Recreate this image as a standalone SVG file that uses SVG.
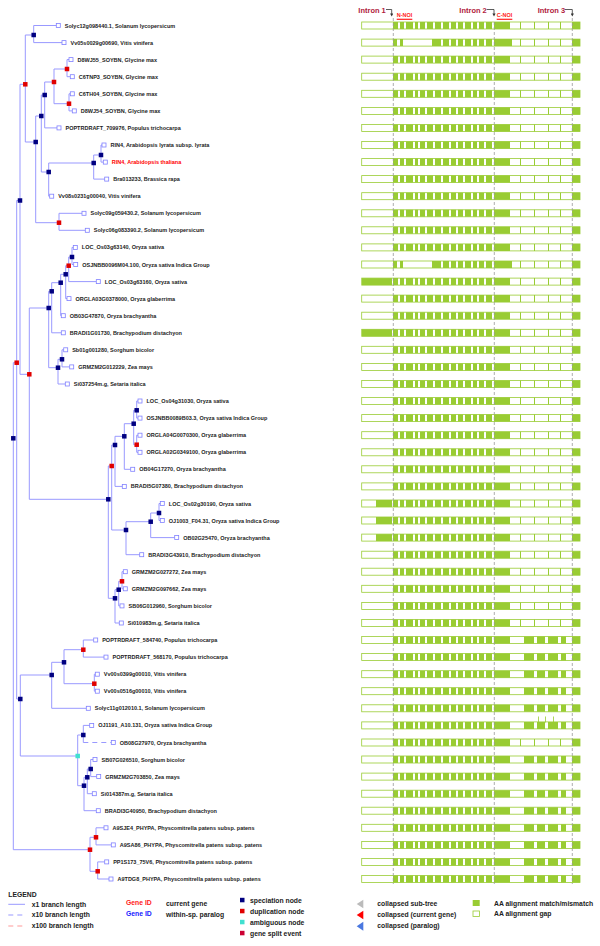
<svg xmlns="http://www.w3.org/2000/svg" width="600" height="946" viewBox="0 0 600 946">
<style>
.br{stroke:#9999ff;stroke-width:1;fill:none}
.dash{stroke-dasharray:5,4}
.sp{fill:#000080}
.du{fill:#e00000}
.am{fill:#40e0d0}
.lf{fill:#fff;stroke:#8080ff;stroke-width:0.8}
.lb{font-family:"Liberation Sans",Arial,sans-serif;font-weight:bold;font-size:5.5px;fill:#222}
.cur{fill:#ff0000}
.bg{fill:#fff;stroke:#99cc33;stroke-width:0.8}
.m{fill:#99cc33}
.lg{font-family:"Liberation Sans",Arial,sans-serif;font-weight:bold;font-size:6.8px;fill:#222}
.it{font-family:"Liberation Sans",Arial,sans-serif;font-weight:bold;font-size:7.5px;fill:#b0203c}
.noi{font-family:"Liberation Sans",Arial,sans-serif;font-weight:bold;font-size:5.5px;fill:#ff2020}
.intr{stroke:#999;stroke-width:0.8;stroke-dasharray:3,2}
</style>
<defs>
<rect id="nd" x="-2.25" y="-2.25" width="4.5" height="4.5"/>
<rect id="lfb" class="lf" x="-2" y="-2" width="4" height="4"/>
<marker id="ah" markerWidth="4" markerHeight="4" refX="2" refY="2" orient="auto"><path d="M0,0L4,2L0,4Z" fill="#333"/></marker>
<rect id="bgr" class="bg" x="361.7" y="-3.5" width="218.3" height="7"/>
<path id="core" class="m" d="M393,-3.5h5v7h-5zM400,-3.5h4v7h-4zM406,-3.5h7v7h-7zM415,-3.5h3v7h-3zM420,-3.5h5v7h-5zM427,-3.5h6v7h-6zM435,-3.5h6v7h-6zM443,-3.5h6v7h-6zM451,-3.5h5v7h-5zM458,-3.5h5v7h-5zM465,-3.5h6v7h-6zM473,-3.5h4v7h-4zM479,-3.5h5v7h-5zM486,-3.5h6v7h-6zM494,-3.5h16v7h-16z"/>
<path id="core2" class="m" d="M393,-3.5h4v7h-4zM400,-3.5h3v7h-3zM432,-3.5h9v7h-9zM443,-3.5h6v7h-6zM451,-3.5h5v7h-5zM458,-3.5h5v7h-5zM465,-3.5h6v7h-6zM473,-3.5h4v7h-4zM479,-3.5h5v7h-5zM486,-3.5h6v7h-6zM494,-3.5h18v7h-18z"/>
<path id="tail" class="m" d="M520,-3.5h1v7h-1zM534,-3.5h1v7h-1zM548,-3.5h1v7h-1zM560,-3.5h1v7h-1zM572,-3.5h8v7h-8z"/>
<path id="tail2" class="m" d="M524,-3.5h10v7h-10zM537,-3.5h8v7h-8zM548,-3.5h10v7h-10zM561,-3.5h5v7h-5zM572,-3.5h8v7h-8z"/>
<path id="head" class="m" d="M362,-3.5h30v7h-30z"/>
<path id="head2" class="m" d="M376,-3.5h16v7h-16z"/>
</defs>
<g id="connectors">
<path class="br" d="M33.7,25.5V42.6M33.7,25.5H56.3M33.7,42.6H62"/>
<path class="br" d="M67,59.6V76.7M67,59.6H69M67,76.7H70.3"/>
<path class="br" d="M69,93.8V110.9M69,93.8H70.3M69,110.9H72.3"/>
<path class="br" d="M54,69V103.7M54,69H67M54,103.7H69"/>
<path class="br" d="M44.7,82V127.9M44.7,82H54M44.7,127.9H57"/>
<path class="br" d="M101,145V162.1M101,145H102M101,162.1H103.3"/>
<path class="br" d="M93.7,155V179.1M93.7,155H101M93.7,179.1H104.7"/>
<path class="br" d="M48.7,163V196.2M48.7,163H93.7M48.7,196.2H49.7"/>
<path class="br" d="M41.3,95V172M41.3,95H44.7M41.3,172H48.7"/>
<path class="br" d="M59,213.3V230.3M59,213.3H82M59,230.3H85.3"/>
<path class="br" d="M35.7,116V222.7M35.7,116H41.3M35.7,222.7H59"/>
<path class="br" d="M25.3,35V142M25.3,35H33.7M25.3,142H35.7"/>
<path class="br" d="M72,247.4V264.5M72,247.4H73.3M72,264.5H73.7"/>
<path class="br" d="M68.7,257V281.6M68.7,257H72M68.7,281.6H96.3"/>
<path class="br" d="M65.7,265.7V298.6M65.7,265.7H68.7M65.7,298.6H67"/>
<path class="br" d="M60.7,274.3V315.7M60.7,274.3H65.7M60.7,315.7H61.3"/>
<path class="br" d="M51.7,282.7V332.8M51.7,282.7H60.7M51.7,332.8H61.3"/>
<path class="br" d="M62,349.8V366.9M62,349.8H63.7M62,366.9H69.7"/>
<path class="br" d="M58,359.3V384M58,359.3H62M58,384H65.3"/>
<path class="br" d="M48.7,291.3V367.7M48.7,291.3H51.7M48.7,367.7H58"/>
<path class="br" d="M136.7,401V418.1M136.7,401H138M136.7,418.1H138"/>
<path class="br" d="M136.7,435.2V452.3M136.7,435.2H138M136.7,452.3H138"/>
<path class="br" d="M133.7,410.3V444.7M133.7,410.3H136.7M133.7,444.7H136.7"/>
<path class="br" d="M124.3,423.7V469.3M124.3,423.7H133.7M124.3,469.3H130.7"/>
<path class="br" d="M115,436.3V486.4M115,436.3H124.3M115,486.4H122.3"/>
<path class="br" d="M159,503.5V520.5M159,503.5H160.3M159,520.5H160.3"/>
<path class="br" d="M150.7,513V537.6M150.7,513H159M150.7,537.6H174.7"/>
<path class="br" d="M126,521.7V554.7M126,521.7H150.7M126,554.7H139.7"/>
<path class="br" d="M111.7,445V530M111.7,445H115M111.7,530H126"/>
<path class="br" d="M122,571.7V588.8M122,571.7H123.3M122,588.8H123.3"/>
<path class="br" d="M118.7,581.3V605.9M118.7,581.3H122M118.7,605.9H120"/>
<path class="br" d="M115,589.7V623M115,589.7H118.7M115,623H119.3"/>
<path class="br" d="M108.3,466V598.3M108.3,466H111.7M108.3,598.3H115"/>
<path class="br" d="M29.3,308V499.3M29.3,308H48.7M29.3,499.3H108.3"/>
<path class="br" d="M20,84.3V374.3M20,84.3H25.3M20,374.3H29.3"/>
<path class="br" d="M83.3,640V657.1M83.3,640H93.7M83.3,657.1H104"/>
<path class="br" d="M94.3,674.2V691.2M94.3,674.2H95.3M94.3,691.2H95.3"/>
<path class="br" d="M64,649.7V683.7M64,649.7H83.3M64,683.7H94.3"/>
<path class="br" d="M51.7,662.3V708.3M51.7,662.3H64M51.7,708.3H86.3"/>
<path class="br" d="M83.3,725.4V742.5M83.3,725.4H89.7"/>
<path class="br dash" d="M83.3,742.5H111.3"/>
<path class="br" d="M90.7,759.5V776.6M90.7,759.5H93M90.7,776.6H96.7"/>
<path class="br" d="M87.3,769V793.7M87.3,769H90.7M87.3,793.7H92.3"/>
<path class="br" d="M84,777.3V810.7M84,777.3H87.3M84,810.7H96.3"/>
<path class="br" d="M77.7,735V785.7M77.7,735H83.3M77.7,785.7H84"/>
<path class="br" d="M20.3,675V756M20.3,675H51.7M20.3,756H77.7"/>
<path class="br" d="M16.7,200.5V699M16.7,200.5H20M16.7,699H20.3"/>
<path class="br" d="M96,827.8V844.9M96,827.8H104M96,844.9H111.3"/>
<path class="br" d="M97.7,861.9V879M97.7,861.9H104.7M97.7,879H109"/>
<path class="br" d="M90,837.3V871.3M90,837.3H96M90,871.3H97.7"/>
<path class="br" d="M13.3,362.7V849.7M13.3,362.7H16.7M13.3,849.7H90"/>
</g>
<g id="internal-nodes">
<g id="nA"><use href="#nd" class="sp" x="33.7" y="35"/></g>
<g id="nB"><use href="#nd" class="du" x="67" y="69"/></g>
<g id="nC"><use href="#nd" class="du" x="69" y="103.7"/></g>
<g id="nD"><use href="#nd" class="du" x="54" y="82"/></g>
<g id="nE"><use href="#nd" class="sp" x="44.7" y="95"/></g>
<g id="nH"><use href="#nd" class="sp" x="101" y="155"/></g>
<g id="nG2"><use href="#nd" class="sp" x="93.7" y="163"/></g>
<g id="nG"><use href="#nd" class="sp" x="48.7" y="172"/></g>
<g id="nF"><use href="#nd" class="sp" x="41.3" y="116"/></g>
<g id="nI"><use href="#nd" class="du" x="59" y="222.7"/></g>
<g id="nJ"><use href="#nd" class="sp" x="35.7" y="142"/></g>
<g id="nK"><use href="#nd" class="du" x="25.3" y="84.3"/></g>
<g id="nP5"><use href="#nd" class="sp" x="72" y="257"/></g>
<g id="nP4"><use href="#nd" class="du" x="68.7" y="265.7"/></g>
<g id="nP3"><use href="#nd" class="sp" x="65.7" y="274.3"/></g>
<g id="nP2"><use href="#nd" class="sp" x="60.7" y="282.7"/></g>
<g id="nP"><use href="#nd" class="sp" x="51.7" y="291.3"/></g>
<g id="nQ2"><use href="#nd" class="sp" x="62" y="359.3"/></g>
<g id="nQ"><use href="#nd" class="sp" x="58" y="367.7"/></g>
<g id="nN"><use href="#nd" class="sp" x="48.7" y="308"/></g>
<g id="nT4"><use href="#nd" class="sp" x="136.7" y="410.3"/></g>
<g id="nT5"><use href="#nd" class="du" x="136.7" y="444.7"/></g>
<g id="nT3"><use href="#nd" class="sp" x="133.7" y="423.7"/></g>
<g id="nT2"><use href="#nd" class="sp" x="124.3" y="436.3"/></g>
<g id="nT1"><use href="#nd" class="sp" x="115" y="445"/></g>
<g id="nS3"><use href="#nd" class="sp" x="159" y="513"/></g>
<g id="nS2"><use href="#nd" class="sp" x="150.7" y="521.7"/></g>
<g id="nS1"><use href="#nd" class="sp" x="126" y="530"/></g>
<g id="nR"><use href="#nd" class="du" x="111.7" y="466"/></g>
<g id="nW"><use href="#nd" class="du" x="122" y="581.3"/></g>
<g id="nV"><use href="#nd" class="sp" x="118.7" y="589.7"/></g>
<g id="nU"><use href="#nd" class="sp" x="115" y="598.3"/></g>
<g id="nO"><use href="#nd" class="sp" x="108.3" y="499.3"/></g>
<g id="nM"><use href="#nd" class="du" x="29.3" y="374.3"/></g>
<g id="nL"><use href="#nd" class="sp" x="20" y="200.5"/></g>
<g id="nD1"><use href="#nd" class="du" x="83.3" y="649.7"/></g>
<g id="nD2"><use href="#nd" class="du" x="94.3" y="683.7"/></g>
<g id="nD3"><use href="#nd" class="sp" x="64" y="662.3"/></g>
<g id="nD4"><use href="#nd" class="sp" x="51.7" y="675"/></g>
<g id="nE1"><use href="#nd" class="sp" x="83.3" y="735"/></g>
<g id="nE3"><use href="#nd" class="sp" x="90.7" y="769"/></g>
<g id="nE4"><use href="#nd" class="sp" x="87.3" y="777.3"/></g>
<g id="nE5"><use href="#nd" class="sp" x="84" y="785.7"/></g>
<g id="nAA"><use href="#nd" class="am" x="77.7" y="756"/></g>
<g id="nZ"><use href="#nd" class="sp" x="20.3" y="699"/></g>
<g id="nX"><use href="#nd" class="du" x="16.7" y="362.7"/></g>
<g id="nPh1"><use href="#nd" class="du" x="96" y="837.3"/></g>
<g id="nPh2"><use href="#nd" class="du" x="97.7" y="871.3"/></g>
<g id="nPhR"><use href="#nd" class="du" x="90" y="849.7"/></g>
<g id="nY"><use href="#nd" class="sp" x="13.3" y="438.3"/></g>
</g>
<g id="leaves">
<g id="l1"><use href="#lfb" x="58.3" y="25.5"/><text class="lb" x="64.8" y="27.5">Solyc12g098440.1, Solanum lycopersicum</text></g>
<g id="l2"><use href="#lfb" x="64" y="42.6"/><text class="lb" x="70.5" y="44.6">Vv05s0029g00690, Vitis vinifera</text></g>
<g id="l3"><use href="#lfb" x="71" y="59.6"/><text class="lb" x="77.5" y="61.6">D8WJ55_SOYBN, Glycine max</text></g>
<g id="l4"><use href="#lfb" x="72.3" y="76.7"/><text class="lb" x="78.8" y="78.7">C6TNP3_SOYBN, Glycine max</text></g>
<g id="l5"><use href="#lfb" x="72.3" y="93.8"/><text class="lb" x="78.8" y="95.8">C6TH04_SOYBN, Glycine max</text></g>
<g id="l6"><use href="#lfb" x="74.3" y="110.9"/><text class="lb" x="80.8" y="112.9">D8WJ54_SOYBN, Glycine max</text></g>
<g id="l7"><use href="#lfb" x="59" y="127.9"/><text class="lb" x="65.5" y="129.9">POPTRDRAFT_709976, Populus trichocarpa</text></g>
<g id="l8"><use href="#lfb" x="104" y="145"/><text class="lb" x="110.5" y="147">RIN4, Arabidopsis lyrata subsp. lyrata</text></g>
<g id="l9"><use href="#lfb" x="105.3" y="162.1"/><text class="lb cur" x="111.8" y="164.1">RIN4, Arabidopsis thaliana</text></g>
<g id="l10"><use href="#lfb" x="106.7" y="179.1"/><text class="lb" x="113.2" y="181.1">Bra013233, Brassica rapa</text></g>
<g id="l11"><use href="#lfb" x="51.7" y="196.2"/><text class="lb" x="58.2" y="198.2">Vv08s0231g00040, Vitis vinifera</text></g>
<g id="l12"><use href="#lfb" x="84" y="213.3"/><text class="lb" x="90.5" y="215.3">Solyc09g059430.2, Solanum lycopersicum</text></g>
<g id="l13"><use href="#lfb" x="87.3" y="230.3"/><text class="lb" x="93.8" y="232.3">Solyc06g083390.2, Solanum lycopersicum</text></g>
<g id="l14"><use href="#lfb" x="75.3" y="247.4"/><text class="lb" x="81.8" y="249.4">LOC_Os03g63140, Oryza sativa</text></g>
<g id="l15"><use href="#lfb" x="75.7" y="264.5"/><text class="lb" x="82.2" y="266.5">OSJNBB0096M04.100, Oryza sativa Indica Group</text></g>
<g id="l16"><use href="#lfb" x="98.3" y="281.6"/><text class="lb" x="104.8" y="283.6">LOC_Os03g63160, Oryza sativa</text></g>
<g id="l17"><use href="#lfb" x="69" y="298.6"/><text class="lb" x="75.5" y="300.6">ORGLA03G0378000, Oryza glaberrima</text></g>
<g id="l18"><use href="#lfb" x="63.3" y="315.7"/><text class="lb" x="69.8" y="317.7">OB03G47870, Oryza brachyantha</text></g>
<g id="l19"><use href="#lfb" x="63.3" y="332.8"/><text class="lb" x="69.8" y="334.8">BRADI1G01730, Brachypodium distachyon</text></g>
<g id="l20"><use href="#lfb" x="65.7" y="349.8"/><text class="lb" x="72.2" y="351.8">Sb01g001280, Sorghum bicolor</text></g>
<g id="l21"><use href="#lfb" x="71.7" y="366.9"/><text class="lb" x="78.2" y="368.9">GRMZM2G012229, Zea mays</text></g>
<g id="l22"><use href="#lfb" x="67.3" y="384"/><text class="lb" x="73.8" y="386">Si037254m.g, Setaria italica</text></g>
<g id="l23"><use href="#lfb" x="140" y="401"/><text class="lb" x="146.5" y="403">LOC_Os04g31030, Oryza sativa</text></g>
<g id="l24"><use href="#lfb" x="140" y="418.1"/><text class="lb" x="146.5" y="420.1">OSJNBB0089B03.3, Oryza sativa Indica Group</text></g>
<g id="l25"><use href="#lfb" x="140" y="435.2"/><text class="lb" x="146.5" y="437.2">ORGLA04G0070300, Oryza glaberrima</text></g>
<g id="l26"><use href="#lfb" x="140" y="452.3"/><text class="lb" x="146.5" y="454.3">ORGLA02G0349100, Oryza glaberrima</text></g>
<g id="l27"><use href="#lfb" x="132.7" y="469.3"/><text class="lb" x="139.2" y="471.3">OB04G17270, Oryza brachyantha</text></g>
<g id="l28"><use href="#lfb" x="124.3" y="486.4"/><text class="lb" x="130.8" y="488.4">BRADI5G07380, Brachypodium distachyon</text></g>
<g id="l29"><use href="#lfb" x="162.3" y="503.5"/><text class="lb" x="168.8" y="505.5">LOC_Os02g30190, Oryza sativa</text></g>
<g id="l30"><use href="#lfb" x="162.3" y="520.5"/><text class="lb" x="168.8" y="522.5">OJ1003_F04.31, Oryza sativa Indica Group</text></g>
<g id="l31"><use href="#lfb" x="176.7" y="537.6"/><text class="lb" x="183.2" y="539.6">OB02G25470, Oryza brachyantha</text></g>
<g id="l32"><use href="#lfb" x="141.7" y="554.7"/><text class="lb" x="148.2" y="556.7">BRADI3G43910, Brachypodium distachyon</text></g>
<g id="l33"><use href="#lfb" x="125.3" y="571.7"/><text class="lb" x="131.8" y="573.7">GRMZM2G027272, Zea mays</text></g>
<g id="l34"><use href="#lfb" x="125.3" y="588.8"/><text class="lb" x="131.8" y="590.8">GRMZM2G097662, Zea mays</text></g>
<g id="l35"><use href="#lfb" x="122" y="605.9"/><text class="lb" x="128.5" y="607.9">SB06G012960, Sorghum bicolor</text></g>
<g id="l36"><use href="#lfb" x="121.3" y="623"/><text class="lb" x="127.8" y="625">Si010983m.g, Setaria italica</text></g>
<g id="l37"><use href="#lfb" x="95.7" y="640"/><text class="lb" x="102.2" y="642">POPTRDRAFT_584740, Populus trichocarpa</text></g>
<g id="l38"><use href="#lfb" x="106" y="657.1"/><text class="lb" x="112.5" y="659.1">POPTRDRAFT_568170, Populus trichocarpa</text></g>
<g id="l39"><use href="#lfb" x="97.3" y="674.2"/><text class="lb" x="103.8" y="676.2">Vv00s0399g00010, Vitis vinifera</text></g>
<g id="l40"><use href="#lfb" x="97.3" y="691.2"/><text class="lb" x="103.8" y="693.2">Vv00s0516g00010, Vitis vinifera</text></g>
<g id="l41"><use href="#lfb" x="88.3" y="708.3"/><text class="lb" x="94.8" y="710.3">Solyc11g012010.1, Solanum lycopersicum</text></g>
<g id="l42"><use href="#lfb" x="91.7" y="725.4"/><text class="lb" x="98.2" y="727.4">OJ1191_A10.131, Oryza sativa Indica Group</text></g>
<g id="l43"><use href="#lfb" x="113.3" y="742.5"/><text class="lb" x="119.8" y="744.5">OB08G27970, Oryza brachyantha</text></g>
<g id="l44"><use href="#lfb" x="95" y="759.5"/><text class="lb" x="101.5" y="761.5">SB07G026510, Sorghum bicolor</text></g>
<g id="l45"><use href="#lfb" x="98.7" y="776.6"/><text class="lb" x="105.2" y="778.6">GRMZM2G703850, Zea mays</text></g>
<g id="l46"><use href="#lfb" x="94.3" y="793.7"/><text class="lb" x="100.8" y="795.7">Si014387m.g, Setaria italica</text></g>
<g id="l47"><use href="#lfb" x="98.3" y="810.7"/><text class="lb" x="104.8" y="812.7">BRADI3G40950, Brachypodium distachyon</text></g>
<g id="l48"><use href="#lfb" x="106" y="827.8"/><text class="lb" x="112.5" y="829.8">A9SJE4_PHYPA, Physcomitrella patens subsp. patens</text></g>
<g id="l49"><use href="#lfb" x="113.3" y="844.9"/><text class="lb" x="119.8" y="846.9">A9SA86_PHYPA, Physcomitrella patens subsp. patens</text></g>
<g id="l50"><use href="#lfb" x="106.7" y="861.9"/><text class="lb" x="113.2" y="863.9">PP1S173_75V6, Physcomitrella patens subsp. patens</text></g>
<g id="l51"><use href="#lfb" x="111" y="879"/><text class="lb" x="117.5" y="881">A9TDG8_PHYPA, Physcomitrella patens subsp. patens</text></g>
</g>
<g id="alignment">
<g transform="translate(0,25.5)"><use href="#bgr"/><use href="#core"/><use href="#tail"/></g>
<g transform="translate(0,42.6)"><use href="#bgr"/><use href="#core2"/><use href="#tail"/></g>
<g transform="translate(0,59.6)"><use href="#bgr"/><use href="#core"/><use href="#tail"/></g>
<g transform="translate(0,76.7)"><use href="#bgr"/><use href="#core"/><use href="#tail"/></g>
<g transform="translate(0,93.8)"><use href="#bgr"/><use href="#core"/><use href="#tail"/></g>
<g transform="translate(0,110.9)"><use href="#bgr"/><use href="#core"/><use href="#tail"/></g>
<g transform="translate(0,127.9)"><use href="#bgr"/><use href="#core"/><use href="#tail"/></g>
<g transform="translate(0,145)"><use href="#bgr"/><use href="#core"/><use href="#tail"/></g>
<g transform="translate(0,162.1)"><use href="#bgr"/><use href="#core"/><use href="#tail"/></g>
<g transform="translate(0,179.1)"><use href="#bgr"/><use href="#core"/><use href="#tail"/></g>
<g transform="translate(0,196.2)"><use href="#bgr"/><use href="#core"/><use href="#tail"/></g>
<g transform="translate(0,213.3)"><use href="#bgr"/><use href="#core"/><use href="#tail"/></g>
<g transform="translate(0,230.3)"><use href="#bgr"/><use href="#core"/><use href="#tail"/></g>
<g transform="translate(0,247.4)"><use href="#bgr"/><use href="#core"/><use href="#tail"/></g>
<g transform="translate(0,264.5)"><use href="#bgr"/><use href="#core2"/><use href="#tail"/></g>
<g transform="translate(0,281.6)"><use href="#bgr"/><use href="#head"/><use href="#core"/><use href="#tail"/></g>
<g transform="translate(0,298.6)"><use href="#bgr"/><use href="#core"/><use href="#tail"/></g>
<g transform="translate(0,315.7)"><use href="#bgr"/><use href="#core"/><use href="#tail"/></g>
<g transform="translate(0,332.8)"><use href="#bgr"/><use href="#head"/><use href="#core"/><use href="#tail"/></g>
<g transform="translate(0,349.8)"><use href="#bgr"/><use href="#core"/><use href="#tail"/></g>
<g transform="translate(0,366.9)"><use href="#bgr"/><use href="#core"/><use href="#tail"/></g>
<g transform="translate(0,384)"><use href="#bgr"/><use href="#core"/><use href="#tail"/></g>
<g transform="translate(0,401)"><use href="#bgr"/><use href="#core"/><use href="#tail"/></g>
<g transform="translate(0,418.1)"><use href="#bgr"/><use href="#core"/><use href="#tail"/></g>
<g transform="translate(0,435.2)"><use href="#bgr"/><use href="#core"/><use href="#tail"/></g>
<g transform="translate(0,452.3)"><use href="#bgr"/><use href="#core"/><use href="#tail"/></g>
<g transform="translate(0,469.3)"><use href="#bgr"/><use href="#core"/><use href="#tail"/></g>
<g transform="translate(0,486.4)"><use href="#bgr"/><use href="#core"/><use href="#tail"/></g>
<g transform="translate(0,503.5)"><use href="#bgr"/><use href="#head2"/><use href="#core"/><use href="#tail"/></g>
<g transform="translate(0,520.5)"><use href="#bgr"/><use href="#head2"/><use href="#core"/><use href="#tail"/></g>
<g transform="translate(0,537.6)"><use href="#bgr"/><use href="#head2"/><use href="#core"/><use href="#tail"/></g>
<g transform="translate(0,554.7)"><use href="#bgr"/><use href="#core"/><use href="#tail"/></g>
<g transform="translate(0,571.7)"><use href="#bgr"/><use href="#core"/><use href="#tail"/></g>
<g transform="translate(0,588.8)"><use href="#bgr"/><use href="#core"/><use href="#tail"/></g>
<g transform="translate(0,605.9)"><use href="#bgr"/><use href="#core"/><use href="#tail"/></g>
<g transform="translate(0,623)"><use href="#bgr"/><use href="#core"/><use href="#tail"/></g>
<g transform="translate(0,640)"><use href="#bgr"/><use href="#core"/><use href="#tail2"/></g>
<g transform="translate(0,657.1)"><use href="#bgr"/><use href="#core"/><use href="#tail2"/></g>
<g transform="translate(0,674.2)"><use href="#bgr"/><use href="#core"/><use href="#tail2"/></g>
<g transform="translate(0,691.2)"><use href="#bgr"/><use href="#core"/><use href="#tail2"/></g>
<g transform="translate(0,708.3)"><use href="#bgr"/><use href="#core"/><use href="#tail2"/></g>
<g transform="translate(0,725.4)"><use href="#bgr"/><use href="#core"/><use href="#tail2"/><path class="m" d="M538,-9h0.8v6h-0.8zM545,-9h0.8v6h-0.8zM553,-9h0.8v6h-0.8z"/></g>
<g transform="translate(0,742.5)"><use href="#bgr"/><use href="#core"/><use href="#tail"/></g>
<g transform="translate(0,759.5)"><use href="#bgr"/><use href="#core"/><use href="#tail2"/></g>
<g transform="translate(0,776.6)"><use href="#bgr"/><use href="#core"/><use href="#tail2"/></g>
<g transform="translate(0,793.7)"><use href="#bgr"/><use href="#core"/><use href="#tail2"/></g>
<g transform="translate(0,810.7)"><use href="#bgr"/><use href="#core"/><use href="#tail2"/></g>
<g transform="translate(0,827.8)"><use href="#bgr"/><use href="#core"/><use href="#tail2"/></g>
<g transform="translate(0,844.9)"><use href="#bgr"/><use href="#core"/><use href="#tail2"/></g>
<g transform="translate(0,861.9)"><use href="#bgr"/><use href="#core"/><use href="#tail2"/></g>
<g transform="translate(0,879)"><use href="#bgr"/><use href="#core"/><use href="#tail2"/></g>
<path class="intr" d="M393.3,18V884M494.3,22V884M572.3,18V884"/>
</g>
<g id="header">
<text class="it" x="358.3" y="12.5">Intron 1</text>
<path d="M386,9.5H391.7V15" fill="none" stroke="#333" stroke-width="0.8" marker-end="url(#ah)"/>
<text class="noi" x="396.7" y="16.8">N-NOI</text>
<path d="M396.7,19.3H412.3" stroke="#ff2020" stroke-width="1.2"/>
<text class="it" x="459.3" y="12.5">Intron 2</text>
<path d="M486.7,9.5H494V15" fill="none" stroke="#333" stroke-width="0.8" marker-end="url(#ah)"/>
<text class="noi" x="496.7" y="16.8">C-NOI</text>
<path d="M496.7,19.3H512.3" stroke="#ff2020" stroke-width="1.2"/>
<text class="it" x="537.7" y="12.5">Intron 3</text>
<path d="M565,9.5H572.3V15" fill="none" stroke="#333" stroke-width="0.8" marker-end="url(#ah)"/>
</g>
<g id="legend">
<text class="lg" x="8.3" y="897">LEGEND</text>
<path d="M8.3,904.3H25" stroke="#9999ff" stroke-width="1"/>
<path d="M8.3,915H25" stroke="#9999ff" stroke-width="1" stroke-dasharray="5,4"/>
<path d="M8.3,926H25" stroke="#ff9999" stroke-width="1" stroke-dasharray="5,4"/>
<text class="lg" x="31.7" y="906.6">x1 branch length</text>
<text class="lg" x="31.7" y="917.3">x10 branch length</text>
<text class="lg" x="31.7" y="928.3">x100 branch length</text>
<text class="lg" x="126" y="905.3" style="fill:#ff2020">Gene ID</text>
<text class="lg" x="126" y="916.3" style="fill:#2020ff">Gene ID</text>
<text class="lg" x="166" y="906.3">current gene</text>
<text class="lg" x="166" y="917.3">within-sp. paralog</text>
<rect x="240" y="897.8" width="4.5" height="4.5" class="sp"/>
<rect x="240" y="908.8" width="4.5" height="4.5" class="du"/>
<rect x="240" y="919.8" width="4.5" height="4.5" class="am"/>
<rect x="240" y="930.8" width="4.5" height="4.5" fill="#cc0033"/>
<text class="lg" x="250" y="902.5">speciation node</text>
<text class="lg" x="250" y="913.5">duplication node</text>
<text class="lg" x="250" y="924.5">ambiguous node</text>
<text class="lg" x="250" y="935.5">gene split event</text>
<path d="M356.7,904L363.3,899.8V908.3Z" fill="#bbbbbb"/>
<path d="M356.7,915L363.3,910.7V919.3Z" fill="#ff0000"/>
<path d="M356.7,926.2L363.3,921.7V930.7Z" fill="#4a78e0"/>
<text class="lg" x="377.3" y="906.3">collapsed sub-tree</text>
<text class="lg" x="377.3" y="917.3">collapsed (current gene)</text>
<text class="lg" x="377.3" y="928.3">collapsed (paralog)</text>
<rect x="472.7" y="900" width="7" height="6" class="m"/>
<rect x="473" y="911" width="6.5" height="5.5" class="bg"/>
<text class="lg" x="494" y="905.8">AA alignment match/mismatch</text>
<text class="lg" x="494" y="916.3">AA alignment gap</text>
</g>
</svg>
